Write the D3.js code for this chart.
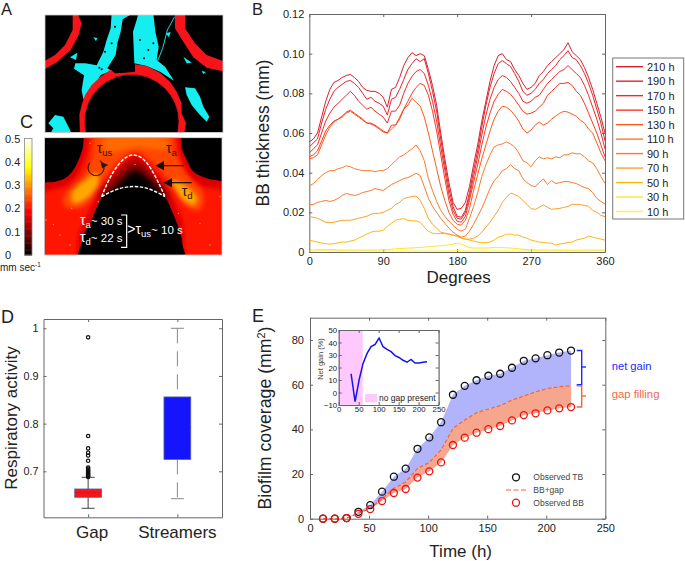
<!DOCTYPE html>
<html>
<head>
<meta charset="utf-8">
<style>
body { margin: 0; background: #fff; }
svg { display: block; }
text { font-family: "Liberation Sans", Arial, sans-serif; fill: #222; }
.axis path, .axis line { stroke: #666; }
.axis text { font-family: "Liberation Sans", Arial, sans-serif; fill: #222; }
</style>
</head>
<body>
<div id="chart"></div>
<script src="https://cdn.jsdelivr.net/npm/d3@7"></script>
<script>
// panel B, thickness in um, one value every 5 degrees from 0 to 360
var bb210 = [55.5,57,60,68,76,82,85.5,86.5,88,89,
  89.5,88,86,83,81.5,81,81,80,78,73,
  82,83,88,94,98,100.5,99,100,99,92,
  84,74,60,47,35,25,21.5,22,25,33,
  44,54,66,76,86,94,99,100,97,96,
  92,89,85,82,83,85,89,91,94,96,
  98,100,102,105.5,101,99,97,93,88,82,75,68,60];
var bb190 = [53,55,57,65,72,77,81,83,84.5,86,
  86.5,85,83,80,77,78,76,75,73.5,69,
  77,78,82,87,92,95,97.5,96,97.5,90,
  81,71,57,44,32,23,18,17.5,21,30,
  41,51,63,74,83,90,95,96.5,95,93.5,
  90,86,81,79,80,82,85,87,90,92,
  94,97,99,101.5,98,97,94,90,85,79,72,65,56];
var bb170 = [50,52,54,60,66,70,73,75,77,79,
  81,79,76,74,72,73,71,69.5,68,65,
  71,71,74,80,85,88.5,91,92,90,84,
  76,66,53,41,29,21,17,16.5,20,28,
  38,48,59,69,77,83,87,89,88,86,
  83,80,76,75,76,78,79,82,85,87,
  89,91,92,94,92,90,88,84,79,73,67,60,52];
var bb150 = [48,49,51,56,61,64,66,67,68.5,70.5,
  71.5,70,68.5,67,65,65,64,62.5,61,60,
  64,64,67,72,76,80,83,85,84,79,
  71,61,49,37,26,19,15.5,15,18,26,
  35,44,54,63,70,76,79.5,82,81,79.5,
  77,74,71,69.5,70,71,73,75,79,81,
  83,85,85,85.5,84,81,79,75,70,65,60,54,48];
var bb130 = [47,47.5,49,54,59,63,65.5,67,68,70,
  71,69.5,68,66.5,65,64.5,63.5,62,60.5,60,
  62,64,68,72,74,77.5,75.5,73.5,68,60,
  51,42,33,26,20,16,14,13.5,16,22,
  31,39,47,54,61,67,71,73.5,73,71.5,
  69,66,62,60,61.5,64,65.5,64,65,67,
  68.5,70,71,70.5,69.5,68.5,66.5,65,62,60,55,50,46];
var bb110 = [33.3,34.5,36.5,38.5,40,41,41,42,42.5,43.5,
  43,42,41.5,41,41,41,40.5,41,41,42,
  44,46,48,49,50.5,52,54,51,46,37,
  31,25.5,21,18,15.5,13.5,11.5,10.5,11.5,17,
  23,30,38,44,49,53,54,54.5,55.5,54.5,
  53,50,46,45,43,46,48,47,47.5,47,
  48,47.5,49,49,50,49.5,49.5,48,46,45,42,38,34.5];
var bb90 = [23.7,24,25,25.5,26,25.5,26,27,28.5,29.5,
  29,28.5,29,30,30.5,31,32,31.5,31,32.5,
  34,35,36,37,37.5,38.5,39.7,38.5,33,27,
  23,20,17,14.5,12,10,8.5,7.5,8,10.5,
  14,18,22,27,32,36,38,41,42,44,
  42,41,37,35,33.5,33,35,36.8,34,36,
  34.5,35,35.5,35.5,35,34.5,33.5,32.5,32,30,27,25.5,24.2];
var bb70 = [17.8,17.5,17,16,15,14.8,15,15.5,16,16,
  16,16.5,17,17.5,18,19,19.5,19.5,20,21,
  22,24,25,27,27.5,28,28.2,26,22,17,
  14,12,10,9.5,9,8.5,8,7,6.5,6.5,
  7,8,10,12.5,15,18,21,25,27.5,29.7,
  29,28,26,24,21.8,21.5,22.5,23.7,22.5,21.5,
  21.8,22,22.5,23,24,24,24,23.5,23,21,20,18.5,17.8];
var bb50 = [6,5.5,5,4.5,4.2,4,4.2,4.6,5,5,
  5.5,6,7,8,9,10,10.5,10.5,11,13,
  14.5,16,16.5,16.8,16,15.7,15.7,15,12.5,10.5,
  9.5,9.3,9.3,9.3,9,8.5,8,7,6.5,6,
  5.5,5,4.8,4.7,5,6,7.5,8,9,9,
  8.5,8.5,7.5,7,6,5.5,5,4.8,4.5,4.5,
  3.5,4,4.3,4.8,5,6,6.5,7,8,7.5,7,6.5,6];
var bb30 = [1,1,1.2,1.2,1.2,1.2,1.2,1,1,1,
  1,1,1,1,1,1,1,1,1.2,1.2,
  1.4,1.6,1.8,1.8,2,2,2.2,2.2,2.5,2.6,
  2.8,3,3.2,3.4,3.6,4,4.5,4,3,2.2,
  2,2,2,2,2.1,2.2,2.2,2.2,2.1,2,
  1.8,1.6,1.4,1.2,1,1,1,1,1,1,
  1,1,0.9,0.9,0.9,0.9,0.9,1,1,1,1,1,1];
var bb10 = [0.5,0.5,0.5,0.6,0.6,0.5,0.5,0.5,0.5,0.5,
  0.5,0.5,0.5,0.5,0.5,0.5,0.5,0.5,0.5,0.5,
  0.5,0.5,0.5,0.5,0.5,0.5,0.5,0.5,0.5,0.5,
  0.5,0.5,0.5,0.5,0.5,0.6,0.7,0.6,0.5,0.5,
  0.5,0.5,0.5,0.5,0.5,0.5,0.5,0.5,0.5,0.5,
  0.5,0.5,0.5,0.5,0.5,0.5,0.5,0.5,0.5,0.5,
  0.5,0.5,0.5,0.5,0.5,0.5,0.5,0.5,0.5,0.5,0.5,0.5,0.5];
var bbSeries = [bb210, bb190, bb170, bb150, bb130, bb110, bb90, bb70, bb50, bb30, bb10];
var bbLabels = ['210 h','190 h','170 h','150 h','130 h','110 h','90 h','70 h','50 h','30 h','10 h'];
var bbColors = ['#d4212e','#e5222c','#ee2b2b','#f93a25','#fc5a1e','#fb7b2c','#fa7a2c','#fca12c','#fdb90d','#fde334','#fbf42f'];
var bbTicksX = [0, 90, 180, 270, 360];
var bbTicksY = [0, 20, 40, 60, 80, 100, 120];

// panel D
var boxCategories = ['Gap', 'Streamers'];
var boxQ1 = [0.6455, 0.725];
var boxMedian = [0.655, 0.792];
var boxQ3 = [0.6629, 0.856];
var boxLow = [0.6224, 0.6425];
var boxHigh = [0.6874, 1.0];
var gapOutliers = [0.981,0.774,0.748,0.739,0.733,0.722,0.708,0.705,0.702,0.70,0.698,0.696,0.694,0.692,0.69,0.688];
var boxColors = ['#f81418', '#1414ff'];

// panel E
var hours = [11,21,31,41,51,61,71,81,91,101,111,121,131,141,151,161,171,181,191,201,211,221];
var observedTB = [0,0,0.3,3.1,6.1,12.1,18.8,22.4,31.3,36.4,43.2,55.5,59.5,62,64,64.9,67.6,70.7,71.8,73.2,74.4,75.3];
var bbGap = [0,0,0.3,2.4,4.6,9,13.6,16.4,22.5,25.2,30.8,40.4,44.2,47.4,49.1,50.6,53.1,54.9,56.8,58.3,59.1,59.5];
var observedBB = [0,0,0.3,2.2,4.3,7.9,11.5,13.3,18.4,21.2,25.2,33,36.3,38.5,40.1,41.5,44,46.4,47.2,48.5,49.4,50];
var netHours = [31,41,51,61,71,81,91,101,111,121,131,141,151,161,171,181,191,201,211,221];
var netGain = [15,-7.3,10,23.3,31.3,36.7,38.5,43.6,36.6,34.5,32.7,29.5,28,25.8,24.2,26.5,23.6,23.6,24.2,24.6];

// colour bar of panel C
var speedTicks = [0, 0.1, 0.2, 0.3, 0.4, 0.5];

var svg = d3.select('#chart').append('svg').attr('width', 685).attr('height', 561);
var defs = svg.append('defs');
var line = d3.line();
var closedCurve = d3.line().curve(d3.curveCatmullRomClosed);

function label(x, y, str, size, anchor, color) {
  return svg.append('text').attr('x', x).attr('y', y).text(str)
    .attr('font-size', size).attr('text-anchor', anchor || 'start')
    .style('fill', color || '#222');
}
function vlabel(x, y, str, size) {
  return svg.append('text').attr('transform', 'translate(' + x + ',' + y + ') rotate(-90)')
    .text(str).attr('font-size', size).attr('text-anchor', 'middle');
}

// box with inward ticks on all four sides
function frame(x, y, xTicks, yTicks, fmtX, fmtY, size, pad) {
  var l = x.range()[0], r = x.range()[1], b = y.range()[0], t = y.range()[1];
  var g = svg.append('g').attr('class', 'axis').attr('font-size', size);
  var bottom = d3.axisBottom(x).tickValues(xTicks).tickSize(-3).tickSizeOuter(0).tickPadding(pad).tickFormat(fmtX);
  var left = d3.axisLeft(y).tickValues(yTicks).tickSize(-3).tickSizeOuter(0).tickPadding(pad).tickFormat(fmtY);
  g.append('g').attr('transform', 'translate(0,' + b + ')').call(bottom);
  g.append('g').attr('transform', 'translate(' + l + ',0)').call(left);
  g.append('g').attr('transform', 'translate(0,' + t + ')')
    .call(d3.axisTop(x).tickValues(xTicks).tickSize(-3).tickSizeOuter(0).tickFormat(''));
  g.append('g').attr('transform', 'translate(' + r + ',0)')
    .call(d3.axisRight(y).tickValues(yTicks).tickSize(-3).tickSizeOuter(0).tickFormat(''));
  g.selectAll('text').attr('font-size', size).attr('font-family', null);
  return g;
}

// ---------- panel letters
label(1, 15, 'A', 16.5);
label(252, 15, 'B', 16.5);
label(20, 128, 'C', 18);
label(1, 323, 'D', 18);
label(252, 322, 'E', 18);

// ---------- panel A, traced masks, coordinates are crop pixels
var ax = d3.scaleLinear().domain([0, 750]).range([0, 250]);
var ay = d3.scaleLinear().domain([0, 420]).range([0, 140]);
function aPts(p) { return p.map(function(d) { return [ax(d[0]), ay(d[1])]; }); }

defs.append('clipPath').attr('id', 'clipA').append('rect')
  .attr('x', 45).attr('y', 15).attr('width', 178).attr('height', 117.6);
var gA = svg.append('g').attr('clip-path', 'url(#clipA)');
gA.append('rect').attr('x', 45).attr('y', 15).attr('width', 178).attr('height', 117.6).attr('fill', '#000');

var cyanBlobs = [
  [[335,40],[395,42],[368,58],[362,95],[352,130],[347,165],[322,205],[335,212],[302,225],[282,260],[266,280],[250,298],[245,270],[252,226],[222,206],[226,190],[256,190],[290,196],[310,155],[320,120],[332,85]],
  [[415,40],[460,40],[466,95],[476,140],[470,180],[495,200],[522,242],[480,215],[440,198],[403,190],[399,95],[410,60]],
  [[555,262],[585,265],[600,290],[610,320],[628,350],[620,365],[600,345],[575,315],[560,285]],
  [[145,370],[165,345],[190,350],[200,370],[216,402],[150,402],[160,385]],
  [[210,172],[232,158],[228,180]],
  [[550,170],[575,188],[560,190]],
  [[280,112],[292,114],[288,124]],
  [[497,100],[512,96],[507,112]],
  [[605,213],[618,216],[610,222]]
];
gA.selectAll('path.cyan').data(cyanBlobs).enter().append('path').attr('class', 'cyan')
  .attr('d', function(d) { return line(aPts(d)) + 'Z'; }).attr('fill', '#14eef0');
gA.append('path').attr('d', line(aPts([[524,50],[502,90],[488,145],[472,185]])))
  .attr('fill', 'none').attr('stroke', '#14d8dc').attr('stroke-width', 1);
var cyanHoles = [[315,155],[335,130],[298,203],[305,208],[420,120],[445,150],[460,130],[345,80],[432,175]];
gA.selectAll('circle.hole').data(cyanHoles).enter().append('circle').attr('class', 'hole')
  .attr('cx', function(d) { return ax(d[0]); }).attr('cy', function(d) { return ay(d[1]); })
  .attr('r', 1).attr('fill', '#000');

var redBands = [
  [[218,40],[218,90],[195,135],[165,165],[130,185],[130,210],[170,187],[212,150],[236,105],[245,70],[232,40]],
  [[555,40],[555,85],[585,130],[620,165],[675,185],[675,215],[620,203],[580,172],[548,122],[525,85],[525,40]],
  [[240,405],[238,345],[245,315],[255,285],[275,255],[300,232],[332,209],[345,220],[375,218],[405,215],[405,193],[440,198],[480,218],[510,245],[530,275],[545,310],[545,340],[558,370],[552,405]]
];
gA.selectAll('path.red').data(redBands).enter().append('path').attr('class', 'red')
  .attr('d', function(d) { return line(aPts(d)) + 'Z'; }).attr('fill', '#f5141a');
gA.append('circle').attr('cx', ax(395)).attr('cy', ay(365)).attr('r', ax(142)).attr('fill', '#000')
  .attr('stroke', '#f5141a').attr('stroke-width', 0.8);
svg.append('rect').attr('x', 45).attr('y', 15).attr('width', 178).attr('height', 117.6)
  .attr('fill', 'none').attr('stroke', '#ccc').attr('stroke-width', 0.8);

// ---------- panel C, traced contours, coordinates are crop pixels
var heat = d3.scaleLinear().domain([0, 0.1875, 0.375, 0.5]).range(['#000', '#f00', '#ff0', '#fff']);
var cx = d3.scaleLinear().domain([0, 570]).range([40, 230]);
var cy = d3.scaleLinear().domain([0, 375]).range([135, 260]);
function cPts(p) { return p.map(function(d) { return [cx(d[0]), cy(d[1])]; }); }

defs.append('clipPath').attr('id', 'clipC').append('rect')
  .attr('x', 44.5).attr('y', 137.7).attr('width', 177.5).attr('height', 117.3);
[['blur1', 0.7], ['blur2', 2], ['blur3', 3.5]].forEach(function(b) {
  defs.append('filter').attr('id', b[0]).attr('x', '-20%').attr('y', '-20%').attr('width', '140%').attr('height', '140%')
    .append('feGaussianBlur').attr('stdDeviation', b[1]);
});
var gC = svg.append('g').attr('clip-path', 'url(#clipC)');
gC.append('rect').attr('x', 44.5).attr('y', 137.7).attr('width', 177.5).attr('height', 117.3).attr('fill', '#000');

var heatLayers = [
  { v: 0.16, blur: 'blur1', p: [[140,-5],[128,40],[118,70],[100,105],[75,130],[45,140],[0,150],[0,380],[115,380],[130,300],[150,265],[175,210],[190,180],[230,155],[280,150],[340,165],[380,200],[405,250],[425,310],[440,380],[560,380],[560,150],[500,130],[460,110],[440,75],[425,40],[415,-5]] },
  { v: 0.205, blur: 'blur2', p: [[155,-5],[140,50],[125,90],[90,145],[35,165],[5,175],[5,380],[100,380],[118,290],[145,235],[180,170],[230,110],[285,60],[340,110],[385,170],[425,250],[450,380],[555,380],[555,175],[480,150],[440,110],[420,60],[400,-5]] },
  { v: 0.24, blur: 'blur2', p: [[165,5],[395,5],[405,50],[440,120],[490,175],[480,225],[440,215],[395,150],[340,85],[285,50],[230,85],[170,165],[130,215],[75,215],[70,185],[130,120],[155,60]] },
  { v: 0.31, blur: 'blur2', p: [[95,175],[135,135],[170,115],[175,145],[140,190],[100,205]] },
  { v: 0.31, blur: 'blur2', p: [[395,135],[425,145],[470,185],[465,210],[430,195]] },
  { v: 0.265, blur: 'blur2', p: [[190,15],[380,15],[385,40],[285,38],[195,50]] },
  { v: 0.11, blur: 'blur3', p: [[175,190],[225,120],[285,78],[345,125],[385,195],[345,175],[285,160],[225,170]] },
  { v: 0, blur: 'blur3', p: [[225,155],[285,105],[340,145],[378,190],[285,180],[190,190]] },
  { v: 0, blur: 'blur1', p: [[118,390],[132,305],[152,262],[188,188],[235,162],[285,152],[335,162],[378,192],[402,252],[420,312],[434,390]] }
];
gC.selectAll('path.heat').data(heatLayers).enter().append('path').attr('class', 'heat')
  .attr('d', function(d) { return closedCurve(cPts(d.p)); })
  .attr('fill', function(d) { return heat(d.v); })
  .attr('filter', function(d) { return 'url(#' + d.blur + ')'; });
var specks = [[18,255],[40,268],[60,300],[95,220],[175,200],[285,88],[415,235],[480,265],[540,185],[510,330],[150,25],[90,330]];
gC.selectAll('circle').data(specks).enter().append('circle')
  .attr('cx', function(d) { return cx(d[0]); }).attr('cy', function(d) { return cy(d[1]); })
  .attr('r', 0.7).attr('fill', '#ffb000');
svg.append('rect').attr('x', 44.5).attr('y', 137.7).attr('width', 177.5).attr('height', 117.3)
  .attr('fill', 'none').attr('stroke', '#ccc').attr('stroke-width', 0.8);

// dashed outlines of the gap
var gapCurve = d3.line().curve(d3.curveBasis);
[[[185,185],[205,135],[235,85],[265,60],[290,58],[320,78],[350,130],[375,185]],
 [[185,185],[230,160],[285,152],[330,160],[375,185]]].forEach(function(p) {
  svg.append('path').attr('d', gapCurve(cPts(p))).attr('fill', 'none')
    .attr('stroke', '#fff').attr('stroke-width', 1.4).attr('stroke-dasharray', '3.5,1.5');
});

// arrows
function arrow(x1, x2, y) {
  svg.append('line').attr('x1', cx(x1)).attr('x2', cx(x2)).attr('y1', cy(y)).attr('y2', cy(y))
    .attr('stroke', '#111').attr('stroke-width', 1.2);
  svg.append('path').attr('d', line(cPts([[x2 - 22, y], [x2 + 4, y - 14], [x2 + 4, y + 14]])) + 'Z').attr('fill', '#111');
}
arrow(432, 368, 92);
arrow(455, 392, 143);

// curled arrow
var arc = d3.arc().innerRadius(8).outerRadius(8).startAngle(0.5).endAngle(5.4);
svg.append('path').attr('transform', 'translate(' + cx(168) + ',' + cy(98) + ')').attr('d', arc())
  .attr('fill', 'none').attr('stroke', '#3a1a05').attr('stroke-width', 0.8);
svg.append('path').attr('d', line(cPts([[182,80],[205,90],[186,100]])) + 'Z').attr('fill', '#2a1a10');

function tau(x, y, sub, color, rest, prefix) {
  var t = svg.append('text').attr('x', cx(x)).attr('y', cy(y)).attr('font-size', 12.5).style('fill', color);
  t.append('tspan').text((prefix || '') + '\u03c4').attr('font-size', 14);
  t.append('tspan').text(sub).attr('font-size', 9.5).attr('dy', 3);
  if (rest) t.append('tspan').text(rest).attr('dy', -3).attr('font-size', 11.5);
  return t;
}
tau(170, 55, 'us', '#2a1505');
tau(378, 55, 'a', '#2a1505');
tau(425, 182, 'd', '#2a1505');
tau(120, 270, 'a', '#fff', '~ 30 s');
tau(120, 320, 'd', '#fff', '~ 22 s');
tau(262, 298, 'us', '#fff', '~ 10 s', '>');
svg.append('path').attr('d', line(cPts([[243,240],[260,240],[260,337],[243,337]])))
  .attr('fill', 'none').attr('stroke', '#fff').attr('stroke-width', 1.2);

// colour bar
var speedY = d3.scaleLinear().domain([0, 0.5]).range([255, 138.5]);
svg.append('g').selectAll('rect').data(d3.range(0, 0.5, 0.005)).enter().append('rect')
  .attr('x', 24.5).attr('width', 7.5)
  .attr('y', function(d) { return speedY(d + 0.005); })
  .attr('height', speedY(0) - speedY(0.005) + 0.5)
  .attr('fill', function(d) { return heat(d); });
svg.append('rect').attr('x', 24.5).attr('y', 138.5).attr('width', 7.5).attr('height', 116.5)
  .attr('fill', 'none').attr('stroke', '#888').attr('stroke-width', 0.8);
speedTicks.forEach(function(d) {
  label(5, speedY(d) + 4, d, 11);
});
var unit = label(0, 270.5, 'mm sec', 10);
unit.append('tspan').text('-1').attr('font-size', 6.5).attr('dy', -3.5);

// ---------- panel B
var xB = d3.scaleLinear().domain([0, 360]).range([309.3, 605]);
var yB = d3.scaleLinear().domain([0, 120]).range([252, 14]);
frame(xB, yB, bbTicksX, bbTicksY, d3.format('d'), function(d) { return d === 0 ? '0' : d3.format('.2f')(d / 1000); }, 11, 5);

var bbLine = d3.line().x(function(d, i) { return xB(i * 5); }).y(function(d) { return yB(d); });
svg.append('g').selectAll('path').data(bbSeries.slice().reverse()).enter().append('path')
  .attr('d', bbLine).attr('fill', 'none').attr('stroke-width', 1)
  .attr('stroke', function(d, i) { return bbColors[bbColors.length - 1 - i]; });

svg.append('rect').attr('x', 612.7).attr('y', 58).attr('width', 71).attr('height', 161)
  .attr('fill', '#fff').attr('stroke', '#777').attr('stroke-width', 1);
bbLabels.forEach(function(d, i) {
  var y = 66.7 + i * 14.48;
  svg.append('line').attr('x1', 616).attr('x2', 643).attr('y1', y).attr('y2', y)
    .attr('stroke', bbColors[i]).attr('stroke-width', 1.4);
  label(647, y + 4, d, 11);
});
vlabel(269, 133, 'BB thickness (mm)', 17.5);
label(458.7, 283, 'Degrees', 17, 'middle');

// ---------- panel D
var xD = d3.scaleLinear().domain([0.5, 2.5]).range([43.5, 222]);
var yD = d3.scaleLinear().domain([0.6035, 1.0195]).range([517.3, 319]);
frame(xD, yD, [1, 2], [0.7, 0.8, 0.9, 1], function() { return ''; }, function(d) { return d === 1 ? '1' : d3.format('.1f')(d); }, 10.8, 5);

var gD = svg.append('g');
boxCategories.forEach(function(c, i) {
  var x = xD(i + 1), whisker = i === 0 ? '#444' : '#888';
  [[boxLow[i], boxQ1[i]], [boxQ3[i], boxHigh[i]]].forEach(function(w) {
    gD.append('line').attr('x1', x).attr('x2', x).attr('y1', yD(w[1])).attr('y2', yD(w[0]))
      .attr('stroke', whisker).attr('stroke-width', 1).attr('stroke-dasharray', '15,8');
  });
  [boxLow[i], boxHigh[i]].forEach(function(v) {
    gD.append('line').attr('x1', x - 6.5).attr('x2', x + 6.5).attr('y1', yD(v)).attr('y2', yD(v))
      .attr('stroke', whisker).attr('stroke-width', 1);
  });
  gD.append('rect').attr('x', x - 13.4).attr('width', 26.8)
    .attr('y', yD(boxQ3[i])).attr('height', yD(boxQ1[i]) - yD(boxQ3[i]))
    .attr('fill', boxColors[i]).attr('stroke', '#5560a0').attr('stroke-width', 0.8);
  gD.append('line').attr('x1', x - 13.4).attr('x2', x + 13.4).attr('y1', yD(boxMedian[i])).attr('y2', yD(boxMedian[i]))
    .attr('stroke', i === 0 ? '#d01020' : '#2020c8').attr('stroke-width', 0.6);
  label(x + (i === 0 ? 4 : 0), 538, c, 17, 'middle');
});
gD.selectAll('circle').data(gapOutliers).enter().append('circle')
  .attr('cx', xD(1)).attr('cy', function(d) { return yD(d); }).attr('r', 1.7)
  .attr('fill', 'none').attr('stroke', '#111').attr('stroke-width', 1.2);
vlabel(17, 418, 'Respiratory activity', 17);

// ---------- panel E
var xE = d3.scaleLinear().domain([0, 250]).range([310, 605.3]);
var yE = d3.scaleLinear().domain([0, 90]).range([518.7, 317.7]);

var areaTop = d3.area().x(function(d, i) { return xE(hours[i]); })
  .y0(function(d, i) { return yE(bbGap[i]); }).y1(function(d) { return yE(d); });
svg.append('path').datum(observedTB).attr('d', areaTop).attr('fill', '#b1b3fb');
var areaLow = d3.area().x(function(d, i) { return xE(hours[i]); })
  .y0(function(d, i) { return yE(observedBB[i]); }).y1(function(d) { return yE(d); });
svg.append('path').datum(bbGap).attr('d', areaLow).attr('fill', '#f6a68d');

frame(xE, yE, [0, 50, 100, 150, 200, 250], [0, 20, 40, 60, 80], d3.format('d'), d3.format('d'), 11, 6);

svg.append('path').datum(bbGap)
  .attr('d', d3.line().x(function(d, i) { return xE(hours[i]); }).y(function(d) { return yE(d); }))
  .attr('fill', 'none').attr('stroke', '#f0663a').attr('stroke-width', 1.2).attr('stroke-dasharray', '4,2');

function dots(values, color) {
  svg.append('g').selectAll('circle').data(values).enter().append('circle')
    .attr('cx', function(d, i) { return xE(hours[i]); }).attr('cy', function(d) { return yE(d); })
    .attr('r', 3.5).attr('fill', 'none').attr('stroke', color).attr('stroke-width', 1.3);
}
dots(observedTB, '#111');
dots(observedBB, '#f01010');

// brackets
function bracket(v0, v1, color, midY) {
  svg.append('path').attr('d', line([[576.7, yE(v0)], [581.7, yE(v0)], [581.7, yE(v1)], [576.7, yE(v1)]]))
    .attr('fill', 'none').attr('stroke', color).attr('stroke-width', 1.4);
  svg.append('line').attr('x1', 581.7).attr('x2', 586).attr('y1', midY).attr('y2', midY)
    .attr('stroke', color).attr('stroke-width', 1.4);
}
bracket(75.3, 60, '#1a2cff', 367);
bracket(59.5, 50, '#f4683f', 396);
label(611.7, 370, 'net gain', 11.2, 'start', '#1a2cff');
label(611.7, 398, 'gap filling', 11.3, 'start', '#f06a4a');

// legend
svg.append('circle').attr('cx', 516).attr('cy', 477.3).attr('r', 3.5).attr('fill', 'none').attr('stroke', '#111').attr('stroke-width', 1.3);
svg.append('line').attr('x1', 506).attr('x2', 527).attr('y1', 490).attr('y2', 490)
  .attr('stroke', '#f0663a').attr('stroke-width', 1.2).attr('stroke-dasharray', '5,2.5');
svg.append('circle').attr('cx', 516).attr('cy', 502.7).attr('r', 3.5).attr('fill', 'none').attr('stroke', '#f01010').attr('stroke-width', 1.3);
label(533.3, 480.3, 'Observed TB', 8.5, 'start', '#444');
label(533.3, 493, 'BB+gap', 8.5, 'start', '#444');
label(533.3, 505.7, 'Observed BB', 8.5, 'start', '#444');

var yTitle = vlabel(271, 418, 'Biofilm coverage (mm', 17.7);
yTitle.append('tspan').text('2').attr('font-size', 11).attr('dy', -6);
yTitle.append('tspan').text(')').attr('dy', 6);
label(460.7, 556.7, 'Time (h)', 17, 'middle');

// inset
var xI = d3.scaleLinear().domain([0, 250]).range([338.7, 438.6]);
var yI = d3.scaleLinear().domain([-10, 50]).range([405, 330]);
svg.append('rect').attr('x', xI(0)).attr('y', yI(50)).attr('width', xI(60) - xI(0)).attr('height', yI(-10) - yI(50)).attr('fill', '#ffc8ff');
svg.append('rect').attr('x', 365).attr('y', 394).attr('width', 12.3).attr('height', 8.3).attr('fill', '#ffc8ff');
var inset = frame(xI, yI, [0, 50, 100, 150, 200, 250], [-10, 0, 10, 20, 30, 40, 50], d3.format('d'), d3.format('d'), 7.8, 1.5);
inset.selectAll('path').attr('stroke', '#999').attr('stroke-width', 1.2);
svg.append('path').datum(netGain)
  .attr('d', d3.line().x(function(d, i) { return xI(netHours[i]); }).y(function(d) { return yI(d); }))
  .attr('fill', 'none').attr('stroke', '#1414f0').attr('stroke-width', 1.5);
label(379, 400.7, 'no gap present', 8.5);
vlabel(323, 359, 'Net gain (%)', 7.5).style('fill', '#444');
</script>
</body>
</html>
